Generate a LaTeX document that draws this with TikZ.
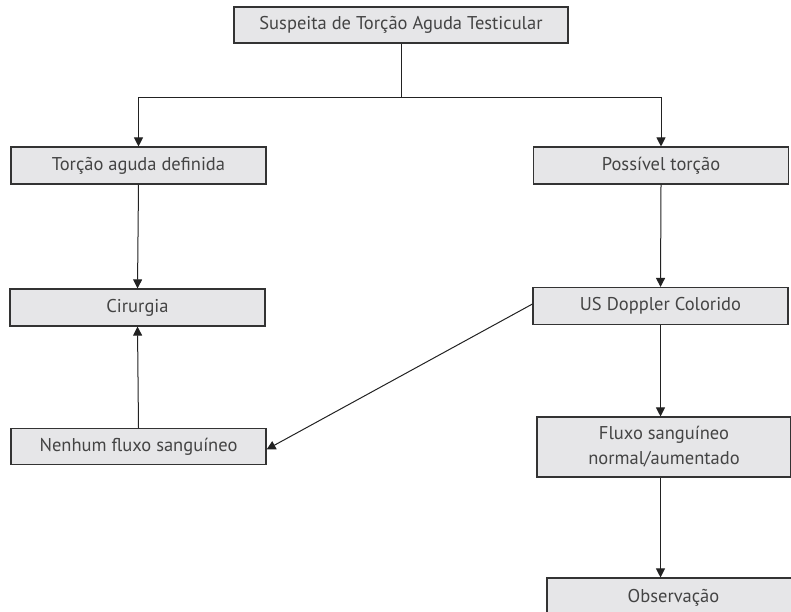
\documentclass[tikz,border=0pt]{standalone}
\usepackage{fontspec}
\setmainfont{PT Sans}
\usetikzlibrary{arrows.meta,positioning}
\definecolor{boxfill}{HTML}{E6E6E8}
\definecolor{boxline}{HTML}{333333}
\definecolor{txt}{HTML}{444444}
\definecolor{conn}{HTML}{222222}
\begin{document}
\begin{tikzpicture}[x=1pt,y=-1pt,
  box/.style={draw=boxline, fill=boxfill, line width=1.1pt, text=txt,
    font=\fontsize{18.5}{25}\selectfont, inner sep=0pt, align=center,
    minimum width=255pt, minimum height=37pt},
  conn/.style={draw=conn, line width=1pt},
  arr/.style={conn, -{Triangle[length=9pt,width=9pt]}}]
\useasboundingbox (0,0) rectangle (791,611);
\clip (0,0) rectangle (791,611);
\node[box, minimum width=334pt, minimum height=36pt] (top) at (401,25) {Suspeita de Torção Aguda Testicular};
\node[box] (tad) at (138.5,165.5) {Torção aguda definida};
\node[box] (pos) at (661,165.5) {Possível torção};
\node[box] (cir) at (137.5,307.5) {Cirurgia};
\node[box] (us) at (660.5,306) {US Doppler Colorido};
\node[box, minimum height=36pt] (nen) at (138.5,446.5) {Nenhum fluxo sanguíneo};
\node[box, minimum width=254pt, minimum height=60pt] (flu) at (664,447) {Fluxo sanguíneo\\normal/aumentado};
\node[box, minimum width=253pt, minimum height=40pt] (obs) at (673.5,598) {Observação};
\coordinate (j) at (401,97);
\coordinate (jl) at (138.5,97);
\coordinate (jr) at (661,97);
\draw[conn] (top.south) -- (j);
\draw[arr] (j) -- (jl) -- (tad.north);
\draw[arr] (j) -- (jr) -- (pos.north);
\draw[arr] (tad.south) -- (cir.north);
\draw[arr] (nen.north) -- (cir.south);
\draw[arr] (pos.south) -- (us.north);
\draw[arr] (us.south) -- (us.south |- flu.north);
\draw[arr] (us.south |- flu.south) -- (us.south |- obs.north);
\draw[arr] ([yshift=2pt]us.west) -- ([yshift=-3pt]nen.east);
\end{tikzpicture}
\end{document}
